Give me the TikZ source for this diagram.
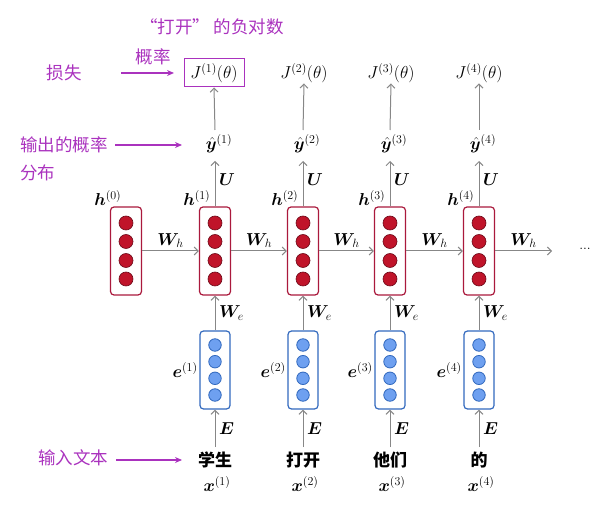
\documentclass[tikz,border=0pt]{standalone}
\usepackage{amsmath}
\usepackage{bm}
\usepackage{fontspec}
\newfontfamily\cjk{Noto Sans CJK SC}
\usetikzlibrary{arrows.meta}
\definecolor{hred}{RGB}{170,25,60}
\definecolor{dred}{RGB}{192,20,42}
\definecolor{dredl}{RGB}{110,10,25}
\definecolor{eblue}{RGB}{50,105,190}
\definecolor{lblue}{RGB}{110,160,240}
\definecolor{pcol}{RGB}{170,50,190}
\definecolor{gcol}{RGB}{135,135,135}
\tikzset{
  hbox/.style={draw=hred, line width=1.2pt, rounded corners=3.5pt, minimum width=31pt, minimum height=88pt, fill=white, inner sep=0pt},
  ebox/.style={draw=eblue, line width=1.2pt, rounded corners=3.5pt, minimum width=30pt, minimum height=78pt, fill=white, inner sep=0pt},
  rdot/.style={circle, fill=dred, draw=dredl, line width=0.6pt, minimum size=14pt, inner sep=0pt},
  bdot/.style={circle, fill=lblue, draw=eblue, line width=0.8pt, minimum size=12.5pt, inner sep=0pt},
  garr/.style={draw=gcol, line width=1pt, -{Straight Barb[length=4pt,width=8pt,line width=1pt]}},
  parr/.style={draw=pcol, line width=1.6pt, -{Stealth[length=7pt,width=6pt]}},
  lab/.style={font=\fontsize{17.28}{21}\selectfont, inner sep=0.5pt},
  ptxt/.style={text=pcol, font=\cjk\fontsize{17.5}{21}\selectfont, inner sep=0pt},
  wtxt/.style={font=\cjk\bfseries\fontsize{17}{20}\selectfont, inner sep=0pt},
}
\begin{document}
\begin{tikzpicture}[x=1pt,y=-1pt]
\useasboundingbox (0,0) rectangle (597,510);
% hidden layers
\foreach \i/\x in {0/126,1/215,2/303,3/390,4/479}{
  \node[hbox] (h\i) at (\x,251) {};
  \foreach \k/\dy in {1/-28,2/-9.5,3/9.5,4/28}{
    \node[rdot] (hd\i\k) at (\x,251+\dy) {};
  }
  \node[lab, anchor=south east] (hl\i) at ([xshift=-4pt]h\i.north) {$\bm{h}^{(\i)}$};
}
% embeddings, words, outputs
\foreach \i/\x/\w in {1/215/学生,2/303/打开,3/390/他们,4/479/的}{
  \node[ebox] (e\i) at (\x,370) {};
  \foreach \k/\dy in {1/-25,2/-8.3,3/8.3,4/25}{
    \node[bdot] (ed\i\k) at (\x,370+\dy) {};
  }
  \node[lab, anchor=east] (el\i) at ([xshift=-1pt]e\i.west) {$\bm{e}^{(\i)}$};
  \node[wtxt] (w\i) at (\x,460) {\w};
  \node[lab] (x\i) at (\x+2,484) {$\bm{x}^{(\i)}$};
  \node[lab] (y\i) at (\x+4,144) {$\hat{\bm{y}}^{(\i)}$};
  \coordinate (ws\i) at (\x,447);
  \coordinate (yb\i) at (\x,161);
  \coordinate (yt\i) at (\x,130);
  \draw[garr] (ws\i) -- (e\i.south) node[lab, midway, right=3pt] (El\i) {$\bm{E}$};
  \draw[garr] (e\i.north) -- (h\i.south) node[lab, midway, right=3pt] (Wel\i) {$\bm{W}_{e}$};
  \draw[garr] (h\i.north) -- (yb\i) node[lab, pos=0.6, right=3pt] (Ul\i) {$\bm{U}$};
}
% J nodes
\node[lab, draw=pcol, line width=1pt, minimum width=60pt, minimum height=28pt] (J1) at (214,73) {$J^{(1)}(\theta)$};
\foreach \i/\x in {2/304,3/391,4/479}{
  \node[lab] (J\i) at (\x,73) {$J^{(\i)}(\theta)$};
}
\foreach \i in {1,2,3,4}{
  \draw[garr] (yt\i) -- (J\i.south);
}
% recurrent arrows
\foreach \a/\b in {0/1,1/2,2/3,3/4}{
  \draw[garr] (h\a.east) -- (h\b.west) node[lab, midway, above=2pt] (Whl\a) {$\bm{W}_{h}$};
}
\coordinate (hend) at (552,251);
\draw[garr] (h4.east) -- (hend) node[lab, midway, above=2pt] (Whl4) {$\bm{W}_{h}$};
\node[font=\fontsize{14}{16}\selectfont] (dots) at (585,249) {...};
% annotations
\node[ptxt] (tA) at (212,27) {“打开” 的负对数};
\node[ptxt] (tB) at (153,57) {概率};
\node[ptxt] (tC) at (64,73) {损失};
\coordinate (aC1) at (121,73);
\coordinate (aC2) at (174,73);
\draw[parr] (aC1) -- (aC2);
\node[ptxt, anchor=west] (tD) at (20,145) {输出的概率};
\node[ptxt, anchor=west] (tE) at (20,173) {分布};
\coordinate (aD1) at (115,145);
\coordinate (aD2) at (182,145);
\draw[parr] (aD1) -- (aD2);
\node[ptxt] (tF) at (73,458) {输入文本};
\coordinate (aF1) at (116,460);
\coordinate (aF2) at (182,460);
\draw[parr] (aF1) -- (aF2);
\end{tikzpicture}
\end{document}
